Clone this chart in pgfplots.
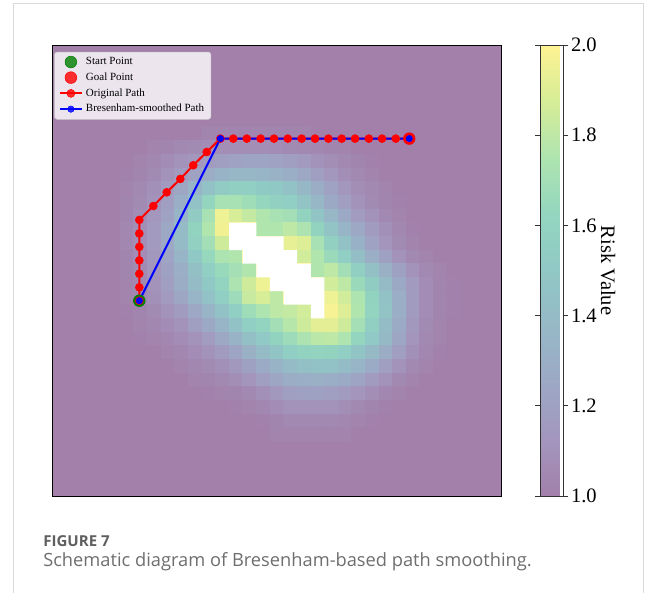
\documentclass[border=0pt]{standalone}
\usepackage{pgfplots}
\pgfplotsset{compat=1.18}
\usepackage{fontspec}
\setmainfont{Liberation Serif}
\newfontfamily\capfont{Open Sans}
\definecolor{bgc}{RGB}{162,128,170}
\definecolor{capgray}{RGB}{95,95,95}
\definecolor{capgraytwo}{RGB}{110,110,110}
\definecolor{framegray}{RGB}{218,218,218}
\definecolor{startgreen}{RGB}{0,128,0}
\pgfplotsset{colormap={viridisalpha}{rgb255=(162,128,170) rgb255=(163,150,189) rgb255=(157,168,197) rgb255=(150,184,198) rgb255=(144,200,197) rgb255=(147,214,191) rgb255=(174,228,176) rgb255=(214,237,151) rgb255=(254,243,146)}}
\begin{document}
\begin{tikzpicture}
\useasboundingbox (0,0) rectangle (493.5pt,-444.75pt);
\draw[framegray, line width=0.75pt] (10.1pt,-444.75pt) -- (10.1pt,-2.25pt) -- (482.25pt,-2.25pt) -- (482.25pt,-444.75pt);
\begin{axis}[
  at={(39pt,-372pt)}, anchor=south west,
  scale only axis, width=337.1pt, height=338.25pt,
  xmin=-0.5, xmax=32.5, ymin=-0.5, ymax=32.5, y dir=reverse,
  xtick=\empty, ytick=\empty,
  axis line style={black, line width=0.75pt},
  axis background/.style={fill=bgc},
  axis on top,
  colormap name=viridisalpha,
  point meta min=1, point meta max=2,
  colorbar,
  colorbar style={
    at={(parent axis.north east)}, anchor=north west, xshift=20.6pt,
    scale only axis, width=17.25pt, height=338.25pt,
    ytick={1,1.2,1.4,1.6,1.8,2},
    tick align=outside, major tick length=3.75pt,
    ytick style={black!80, line width=0.6pt},
    axis line style={black!80, line width=0.6pt},
    yticklabel style={xshift=-1.5pt, font=\fontsize{15.4}{18}\selectfont, /pgf/number format/.cd, fixed, fixed zerofill, precision=1, assume math mode=true},
    ylabel={Risk Value},
    ylabel style={font=\fontsize{15.4}{18}\selectfont, at={(axis description cs:2.95,0.5)}, anchor=center, rotate=180},
  },
  legend style={at={(0.005,0.985)}, anchor=north west, font=\fontsize{8.25}{9.5}\selectfont,
    fill=white, fill opacity=0.8, text opacity=1, draw=black!20, draw opacity=1,
    rounded corners=2pt, row sep=0.6pt, inner xsep=3pt, inner ysep=2pt},
  legend cell align=left,
]
\addplot[matrix plot*, mesh/cols=25, point meta=explicit, forget plot] coordinates {
(5,6)[1] (6,6)[1] (7,6)[1] (8,6)[1] (9,6)[1] (10,6)[1] (11,6)[1.03] (12,6)[1.03] (13,6)[1.03] (14,6)[1.03] (15,6)[1.03] (16,6)[1.03] (17,6)[1.03] (18,6)[1.03] (19,6)[1] (20,6)[1] (21,6)[1] (22,6)[1] (23,6)[1] (24,6)[1] (25,6)[1] (26,6)[1] (27,6)[1] (28,6)[1] (29,6)[1]
(5,7)[1] (6,7)[1] (7,7)[1.02] (8,7)[1.03] (9,7)[1.05] (10,7)[1.06] (11,7)[1.07] (12,7)[1.08] (13,7)[1.08] (14,7)[1.08] (15,7)[1.08] (16,7)[1.07] (17,7)[1.06] (18,7)[1.05] (19,7)[1.04] (20,7)[1.03] (21,7)[1.02] (22,7)[1] (23,7)[1] (24,7)[1] (25,7)[1] (26,7)[1] (27,7)[1] (28,7)[1] (29,7)[1]
(5,8)[1] (6,8)[1.02] (7,8)[1.04] (8,8)[1.07] (9,8)[1.10] (10,8)[1.13] (11,8)[1.16] (12,8)[1.19] (13,8)[1.21] (14,8)[1.22] (15,8)[1.22] (16,8)[1.21] (17,8)[1.18] (18,8)[1.15] (19,8)[1.11] (20,8)[1.08] (21,8)[1.05] (22,8)[1.03] (23,8)[1.01] (24,8)[1] (25,8)[1] (26,8)[1] (27,8)[1] (28,8)[1] (29,8)[1]
(5,9)[1.01] (6,9)[1.03] (7,9)[1.06] (8,9)[1.10] (9,9)[1.15] (10,9)[1.21] (11,9)[1.28] (12,9)[1.34] (13,9)[1.36] (14,9)[1.36] (15,9)[1.35] (16,9)[1.33] (17,9)[1.30] (18,9)[1.25] (19,9)[1.19] (20,9)[1.13] (21,9)[1.08] (22,9)[1.05] (23,9)[1.02] (24,9)[1] (25,9)[1] (26,9)[1] (27,9)[1] (28,9)[1] (29,9)[1]
(5,10)[1.02] (6,10)[1.05] (7,10)[1.09] (8,10)[1.15] (9,10)[1.24] (10,10)[1.35] (11,10)[1.45] (12,10)[1.53] (13,10)[1.56] (14,10)[1.55] (15,10)[1.52] (16,10)[1.50] (17,10)[1.45] (18,10)[1.37] (19,10)[1.29] (20,10)[1.21] (21,10)[1.13] (22,10)[1.08] (23,10)[1.05] (24,10)[1.02] (25,10)[1] (26,10)[1] (27,10)[1] (28,10)[1] (29,10)[1]
(5,11)[1.03] (6,11)[1.06] (7,11)[1.11] (8,11)[1.19] (9,11)[1.30] (10,11)[1.45] (11,11)[1.62] (12,11)[1.72] (13,11)[1.72] (14,11)[1.68] (15,11)[1.63] (16,11)[1.58] (17,11)[1.55] (18,11)[1.46] (19,11)[1.36] (20,11)[1.26] (21,11)[1.18] (22,11)[1.11] (23,11)[1.06] (24,11)[1.03] (25,11)[1.01] (26,11)[1] (27,11)[1] (28,11)[1] (29,11)[1]
(5,12)[1.03] (6,12)[1.07] (7,12)[1.13] (8,12)[1.21] (9,12)[1.35] (10,12)[1.53] (11,12)[1.72] (12,12)[1.95] (13,12)[1.88] (14,12)[1.82] (15,12)[1.76] (16,12)[1.72] (17,12)[1.70] (18,12)[1.60] (19,12)[1.47] (20,12)[1.36] (21,12)[1.26] (22,12)[1.17] (23,12)[1.10] (24,12)[1.05] (25,12)[1.02] (26,12)[1] (27,12)[1] (28,12)[1] (29,12)[1]
(5,13)[1.04] (6,13)[1.08] (7,13)[1.15] (8,13)[1.25] (9,13)[1.40] (10,13)[1.60] (11,13)[1.76] (12,13)[1.96] (13,13)[2] (14,13)[2] (15,13)[1.76] (16,13)[1.76] (17,13)[1.80] (18,13)[1.74] (19,13)[1.60] (20,13)[1.46] (21,13)[1.35] (22,13)[1.25] (23,13)[1.16] (24,13)[1.09] (25,13)[1.04] (26,13)[1.01] (27,13)[1] (28,13)[1] (29,13)[1]
(5,14)[1.04] (6,14)[1.08] (7,14)[1.15] (8,14)[1.25] (9,14)[1.40] (10,14)[1.58] (11,14)[1.70] (12,14)[1.85] (13,14)[2] (14,14)[2] (15,14)[2] (16,14)[2] (17,14)[1.93] (18,14)[1.90] (19,14)[1.72] (20,14)[1.57] (21,14)[1.45] (22,14)[1.32] (23,14)[1.21] (24,14)[1.12] (25,14)[1.06] (26,14)[1.02] (27,14)[1] (28,14)[1] (29,14)[1]
(5,15)[1.03] (6,15)[1.07] (7,15)[1.14] (8,15)[1.23] (9,15)[1.35] (10,15)[1.50] (11,15)[1.64] (12,15)[1.74] (13,15)[1.76] (14,15)[2] (15,15)[2] (16,15)[2] (17,15)[2] (18,15)[1.86] (19,15)[1.76] (20,15)[1.66] (21,15)[1.55] (22,15)[1.42] (23,15)[1.30] (24,15)[1.20] (25,15)[1.11] (26,15)[1.05] (27,15)[1.02] (28,15)[1] (29,15)[1]
(5,16)[1.03] (6,16)[1.06] (7,16)[1.12] (8,16)[1.20] (9,16)[1.30] (10,16)[1.44] (11,16)[1.55] (12,16)[1.65] (13,16)[1.71] (14,16)[1.76] (15,16)[2] (16,16)[2] (17,16)[2] (18,16)[2] (19,16)[1.76] (20,16)[1.80] (21,16)[1.70] (22,16)[1.56] (23,16)[1.44] (24,16)[1.31] (25,16)[1.20] (26,16)[1.11] (27,16)[1.05] (28,16)[1.02] (29,16)[1]
(5,17)[1.02] (6,17)[1.05] (7,17)[1.11] (8,17)[1.18] (9,17)[1.28] (10,17)[1.40] (11,17)[1.50] (12,17)[1.61] (13,17)[1.74] (14,17)[1.85] (15,17)[1.95] (16,17)[2] (17,17)[2] (18,17)[2] (19,17)[2] (20,17)[1.86] (21,17)[1.80] (22,17)[1.66] (23,17)[1.54] (24,17)[1.40] (25,17)[1.26] (26,17)[1.15] (27,17)[1.07] (28,17)[1.03] (29,17)[1.01]
(5,18)[1.02] (6,18)[1.04] (7,18)[1.09] (8,18)[1.15] (9,18)[1.24] (10,18)[1.35] (11,18)[1.45] (12,18)[1.55] (13,18)[1.67] (14,18)[1.83] (15,18)[1.88] (16,18)[1.80] (17,18)[2] (18,18)[2] (19,18)[2] (20,18)[1.95] (21,18)[1.86] (22,18)[1.75] (23,18)[1.60] (24,18)[1.45] (25,18)[1.30] (26,18)[1.16] (27,18)[1.07] (28,18)[1.03] (29,18)[1.01]
(5,19)[1.01] (6,19)[1.03] (7,19)[1.06] (8,19)[1.10] (9,19)[1.16] (10,19)[1.25] (11,19)[1.35] (12,19)[1.45] (13,19)[1.55] (14,19)[1.68] (15,19)[1.75] (16,19)[1.80] (17,19)[1.82] (18,19)[1.86] (19,19)[2] (20,19)[1.98] (21,19)[1.90] (22,19)[1.76] (23,19)[1.61] (24,19)[1.46] (25,19)[1.30] (26,19)[1.16] (27,19)[1.07] (28,19)[1.03] (29,19)[1.01]
(5,20)[1] (6,20)[1.02] (7,20)[1.04] (8,20)[1.07] (9,20)[1.11] (10,20)[1.18] (11,20)[1.26] (12,20)[1.35] (13,20)[1.45] (14,20)[1.55] (15,20)[1.61] (16,20)[1.70] (17,20)[1.78] (18,20)[1.85] (19,20)[1.92] (20,20)[1.92] (21,20)[1.85] (22,20)[1.71] (23,20)[1.56] (24,20)[1.41] (25,20)[1.27] (26,20)[1.14] (27,20)[1.06] (28,20)[1.02] (29,20)[1]
(5,21)[1] (6,21)[1.01] (7,21)[1.02] (8,21)[1.04] (9,21)[1.07] (10,21)[1.11] (11,21)[1.17] (12,21)[1.25] (13,21)[1.34] (14,21)[1.44] (15,21)[1.51] (16,21)[1.60] (17,21)[1.67] (18,21)[1.74] (19,21)[1.79] (20,21)[1.80] (21,21)[1.75] (22,21)[1.62] (23,21)[1.51] (24,21)[1.38] (25,21)[1.24] (26,21)[1.12] (27,21)[1.05] (28,21)[1.02] (29,21)[1]
(5,22)[1] (6,22)[1] (7,22)[1] (8,22)[1.02] (9,22)[1.04] (10,22)[1.07] (11,22)[1.10] (12,22)[1.16] (13,22)[1.23] (14,22)[1.31] (15,22)[1.40] (16,22)[1.48] (17,22)[1.55] (18,22)[1.59] (19,22)[1.61] (20,22)[1.60] (21,22)[1.55] (22,22)[1.47] (23,22)[1.39] (24,22)[1.29] (25,22)[1.18] (26,22)[1.09] (27,22)[1.04] (28,22)[1.01] (29,22)[1]
(5,23)[1] (6,23)[1] (7,23)[1] (8,23)[1] (9,23)[1.02] (10,23)[1.04] (11,23)[1.06] (12,23)[1.09] (13,23)[1.14] (14,23)[1.20] (15,23)[1.27] (16,23)[1.34] (17,23)[1.40] (18,23)[1.44] (19,23)[1.45] (20,23)[1.45] (21,23)[1.41] (22,23)[1.35] (23,23)[1.27] (24,23)[1.19] (25,23)[1.11] (26,23)[1.05] (27,23)[1.02] (28,23)[1] (29,23)[1]
(5,24)[1] (6,24)[1] (7,24)[1] (8,24)[1] (9,24)[1] (10,24)[1.02] (11,24)[1.03] (12,24)[1.05] (13,24)[1.08] (14,24)[1.12] (15,24)[1.18] (16,24)[1.24] (17,24)[1.28] (18,24)[1.30] (19,24)[1.31] (20,24)[1.30] (21,24)[1.27] (22,24)[1.22] (23,24)[1.16] (24,24)[1.10] (25,24)[1.05] (26,24)[1.02] (27,24)[1] (28,24)[1] (29,24)[1]
(5,25)[1] (6,25)[1] (7,25)[1] (8,25)[1] (9,25)[1] (10,25)[1] (11,25)[1.01] (12,25)[1.02] (13,25)[1.03] (14,25)[1.05] (15,25)[1.09] (16,25)[1.14] (17,25)[1.18] (18,25)[1.20] (19,25)[1.20] (20,25)[1.19] (21,25)[1.16] (22,25)[1.12] (23,25)[1.08] (24,25)[1.04] (25,25)[1.02] (26,25)[1] (27,25)[1] (28,25)[1] (29,25)[1]
(5,26)[1] (6,26)[1] (7,26)[1] (8,26)[1] (9,26)[1] (10,26)[1] (11,26)[1] (12,26)[1] (13,26)[1.01] (14,26)[1.02] (15,26)[1.04] (16,26)[1.07] (17,26)[1.10] (18,26)[1.11] (19,26)[1.11] (20,26)[1.10] (21,26)[1.08] (22,26)[1.05] (23,26)[1.03] (24,26)[1.01] (25,26)[1] (26,26)[1] (27,26)[1] (28,26)[1] (29,26)[1]
(5,27)[1] (6,27)[1] (7,27)[1] (8,27)[1] (9,27)[1] (10,27)[1] (11,27)[1] (12,27)[1] (13,27)[1] (14,27)[1] (15,27)[1.01] (16,27)[1.03] (17,27)[1.05] (18,27)[1.05] (19,27)[1.05] (20,27)[1.05] (21,27)[1.04] (22,27)[1.02] (23,27)[1.01] (24,27)[1] (25,27)[1] (26,27)[1] (27,27)[1] (28,27)[1] (29,27)[1]
(5,28)[1] (6,28)[1] (7,28)[1] (8,28)[1] (9,28)[1] (10,28)[1] (11,28)[1] (12,28)[1] (13,28)[1] (14,28)[1] (15,28)[1] (16,28)[1.02] (17,28)[1.02] (18,28)[1.02] (19,28)[1.02] (20,28)[1.02] (21,28)[1.02] (22,28)[1] (23,28)[1] (24,28)[1] (25,28)[1] (26,28)[1] (27,28)[1] (28,28)[1] (29,28)[1]
};
\addplot[fill=white, draw=none, forget plot] coordinates {
(12.5,12.5) (14.5,12.5) (14.5,13.5) (16.5,13.5) (16.5,14.5) (17.5,14.5) (17.5,15.5) (18.5,15.5) (18.5,16.5) (19.5,16.5) (19.5,19.5) (18.5,19.5) (18.5,18.5) (16.5,18.5) (16.5,17.5) (15.5,17.5) (15.5,16.5) (14.5,16.5) (14.5,15.5) (13.5,15.5) (13.5,14.5) (12.5,14.5)
} -- cycle;
\addplot[only marks, mark=*, mark size=4.4pt, color=startgreen] coordinates {(5.91,18.21)};
\addlegendentry{Start Point}
\addplot[only marks, mark=*, mark size=4.4pt, color=red] coordinates {(25.73,6.35)};
\addlegendentry{Goal Point}
\addplot[red, line width=1.5pt, mark=*, mark size=3pt, mark options={solid, line width=0.4pt}] coordinates {
(5.91,18.21) (5.91,17.23) (5.91,16.24) (5.91,15.26) (5.91,14.27) (5.91,13.29) (5.91,12.30)
(6.94,11.28) (7.92,10.28) (8.92,9.30) (9.87,8.30) (10.86,7.33) (11.86,6.35)
(12.81,6.35) (13.80,6.35) (14.82,6.35) (15.80,6.35) (16.81,6.35) (17.83,6.35) (18.81,6.35) (19.79,6.35) (20.77,6.35) (21.75,6.35) (22.76,6.35) (23.73,6.35) (24.74,6.35) (25.73,6.35)
};
\addlegendentry{Original Path}
\addplot[blue, line width=1.5pt, mark=*, mark size=2.4pt, mark options={solid, line width=0.4pt}] coordinates {
(5.91,18.21) (11.86,6.35) (25.73,6.35)
};
\addlegendentry{Bresenham-smoothed Path}
\end{axis}
\node[anchor=base west, inner sep=0pt, font=\capfont\bfseries\fontsize{11.3}{13}\selectfont, text=capgray] at (32.25pt,-409.5pt) {FIGURE 7};
\node[anchor=base west, inner sep=0pt, font=\capfont\fontsize{13.7}{16}\selectfont, text=capgraytwo] at (32.25pt,-424.5pt) {Schematic diagram of Bresenham-based path smoothing.};
\end{tikzpicture}
\end{document}
